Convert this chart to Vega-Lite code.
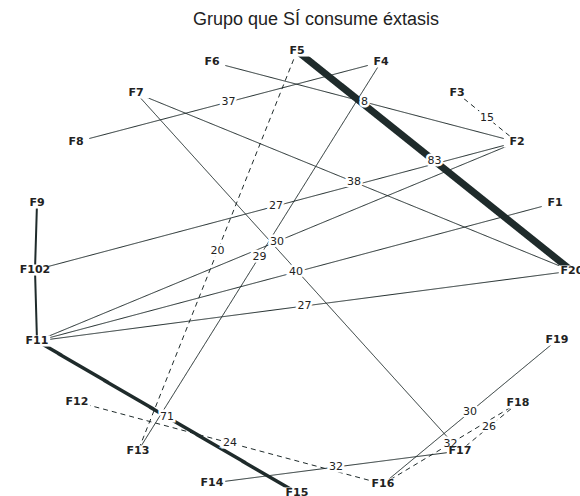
{
  "$schema": "https://vega.github.io/schema/vega-lite/v6.json",
  "width": 580,
  "height": 496,
  "autosize": "none",
  "padding": 0,
  "background": "white",
  "config": {"view": {"stroke": null}},
  "title": {
    "text": "Grupo que SÍ consume éxtasis",
    "font": "Liberation Sans",
    "fontSize": 18,
    "fontWeight": "normal",
    "color": "#222",
    "anchor": "middle",
    "dx": 26,
    "offset": -43,
    "baseline": "alphabetic"
  },
  "datasets": {
    "nodes": [
      {"id": "F5", "x": 297, "y": 51},
      {"id": "F4", "x": 381, "y": 62},
      {"id": "F6", "x": 212, "y": 62},
      {"id": "F7", "x": 136, "y": 93},
      {"id": "F3", "x": 457, "y": 93},
      {"id": "F8", "x": 76, "y": 142},
      {"id": "F2", "x": 517, "y": 142},
      {"id": "F9", "x": 37, "y": 203},
      {"id": "F1", "x": 555, "y": 203},
      {"id": "F102", "x": 35, "y": 270},
      {"id": "F20", "x": 572, "y": 271},
      {"id": "F11", "x": 37, "y": 341},
      {"id": "F19", "x": 557, "y": 340},
      {"id": "F12", "x": 77, "y": 402},
      {"id": "F18", "x": 518, "y": 403},
      {"id": "F13", "x": 138, "y": 451},
      {"id": "F17", "x": 460, "y": 451},
      {"id": "F14", "x": 212, "y": 483},
      {"id": "F16", "x": 383, "y": 484},
      {"id": "F15", "x": 297, "y": 493}
    ],
    "edges": [
      {"source": "F5", "target": "F20", "label": "83", "peso": "muy fuerte", "trazo": "continuo"},
      {"source": "F6", "target": "F2", "label": "8", "peso": "normal", "trazo": "continuo"},
      {"source": "F8", "target": "F4", "label": "37", "peso": "normal", "trazo": "continuo"},
      {"source": "F3", "target": "F2", "label": "15", "peso": "normal", "trazo": "discontinuo"},
      {"source": "F7", "target": "F20", "label": "38", "peso": "normal", "trazo": "continuo"},
      {"source": "F102", "target": "F2", "label": "27", "peso": "normal", "trazo": "continuo"},
      {"source": "F11", "target": "F2", "label": "30", "peso": "normal", "trazo": "continuo"},
      {"source": "F5", "target": "F13", "label": "20", "peso": "normal", "trazo": "discontinuo"},
      {"source": "F4", "target": "F13", "label": "29", "peso": "normal", "trazo": "continuo"},
      {"source": "F11", "target": "F1", "label": "40", "peso": "normal", "trazo": "continuo"},
      {"source": "F7", "target": "F17", "label": null, "peso": "normal", "trazo": "continuo"},
      {"source": "F11", "target": "F20", "label": "27", "peso": "normal", "trazo": "continuo"},
      {"source": "F9", "target": "F102", "label": null, "peso": "medio", "trazo": "continuo"},
      {"source": "F102", "target": "F11", "label": null, "peso": "medio", "trazo": "continuo"},
      {"source": "F11", "target": "F15", "label": "71", "peso": "fuerte", "trazo": "continuo"},
      {"source": "F12", "target": "F16", "label": "24", "peso": "normal", "trazo": "discontinuo"},
      {"source": "F14", "target": "F17", "label": "32", "peso": "normal", "trazo": "continuo"},
      {"source": "F19", "target": "F16", "label": "30", "peso": "normal", "trazo": "continuo"},
      {"source": "F18", "target": "F17", "label": "26", "peso": "normal", "trazo": "discontinuo"},
      {"source": "F18", "target": "F16", "label": "32", "peso": "normal", "trazo": "discontinuo"}
    ]
  },
  "layer": [
    {
      "data": {"name": "edges"},
      "transform": [
        {"lookup": "source", "from": {"data": {"name": "nodes"}, "key": "id", "fields": ["x", "y"]}, "as": ["sx", "sy"]},
        {"lookup": "target", "from": {"data": {"name": "nodes"}, "key": "id", "fields": ["x", "y"]}, "as": ["tx", "ty"]}
      ],
      "mark": {"type": "rule", "color": "#1f2b2b"},
      "encoding": {
        "x": {"field": "sx", "type": "quantitative", "scale": {"domain": [0, 580], "nice": false, "zero": false}, "axis": null},
        "y": {"field": "sy", "type": "quantitative", "scale": {"domain": [0, 496], "reverse": true, "nice": false, "zero": false}, "axis": null},
        "x2": {"field": "tx"},
        "y2": {"field": "ty"},
        "strokeWidth": {"field": "peso", "type": "ordinal", "scale": {"type": "ordinal", "domain": ["muy fuerte", "fuerte", "medio", "normal"], "range": [7, 3.5, 2, 1]}, "legend": null},
        "strokeDash": {"field": "trazo", "type": "nominal", "scale": {"domain": ["continuo", "discontinuo"], "range": [[1, 0], [5, 4]]}, "legend": null}
      }
    },
    {
      "data": {"name": "nodes"},
      "mark": {"type": "point", "shape": "M-1,-0.42H1V0.42H-1Z", "size": 700, "filled": true, "color": "white", "opacity": 1, "strokeWidth": 0},
      "encoding": {
        "x": {"field": "x", "type": "quantitative", "scale": {"domain": [0, 580], "nice": false, "zero": false}, "axis": null},
        "y": {"field": "y", "type": "quantitative", "scale": {"domain": [0, 496], "reverse": true, "nice": false, "zero": false}, "axis": null}
      }
    },
    {
      "data": {"name": "edges"},
      "transform": [
        {"filter": "datum.label != null"},
        {"lookup": "source", "from": {"data": {"name": "nodes"}, "key": "id", "fields": ["x", "y"]}, "as": ["sx", "sy"]},
        {"lookup": "target", "from": {"data": {"name": "nodes"}, "key": "id", "fields": ["x", "y"]}, "as": ["tx", "ty"]},
        {"calculate": "(datum.sx + datum.tx) / 2", "as": "mx"},
        {"calculate": "(datum.sy + datum.ty) / 2", "as": "my"}
      ],
      "mark": {"type": "text", "font": "DejaVu Sans", "fontSize": 11, "stroke": "white", "strokeWidth": 5, "fill": "white", "align": "center", "baseline": "middle"},
      "encoding": {
        "x": {"field": "mx", "type": "quantitative", "scale": {"domain": [0, 580], "nice": false, "zero": false}, "axis": null},
        "y": {"field": "my", "type": "quantitative", "scale": {"domain": [0, 496], "reverse": true, "nice": false, "zero": false}, "axis": null},
        "text": {"field": "label"}
      }
    },
    {
      "data": {"name": "edges"},
      "transform": [
        {"filter": "datum.label != null"},
        {"lookup": "source", "from": {"data": {"name": "nodes"}, "key": "id", "fields": ["x", "y"]}, "as": ["sx", "sy"]},
        {"lookup": "target", "from": {"data": {"name": "nodes"}, "key": "id", "fields": ["x", "y"]}, "as": ["tx", "ty"]},
        {"calculate": "(datum.sx + datum.tx) / 2", "as": "mx"},
        {"calculate": "(datum.sy + datum.ty) / 2", "as": "my"}
      ],
      "mark": {"type": "text", "font": "DejaVu Sans", "fontSize": 11, "color": "#222", "align": "center", "baseline": "middle"},
      "encoding": {
        "x": {"field": "mx", "type": "quantitative", "scale": {"domain": [0, 580], "nice": false, "zero": false}, "axis": null},
        "y": {"field": "my", "type": "quantitative", "scale": {"domain": [0, 496], "reverse": true, "nice": false, "zero": false}, "axis": null},
        "text": {"field": "label"}
      }
    },
    {
      "data": {"name": "nodes"},
      "mark": {"type": "text", "font": "DejaVu Sans", "fontSize": 11, "fontWeight": "bold", "color": "#222", "align": "center", "baseline": "middle"},
      "encoding": {
        "x": {"field": "x", "type": "quantitative", "scale": {"domain": [0, 580], "nice": false, "zero": false}, "axis": null},
        "y": {"field": "y", "type": "quantitative", "scale": {"domain": [0, 496], "reverse": true, "nice": false, "zero": false}, "axis": null},
        "text": {"field": "id"}
      }
    }
  ]
}
